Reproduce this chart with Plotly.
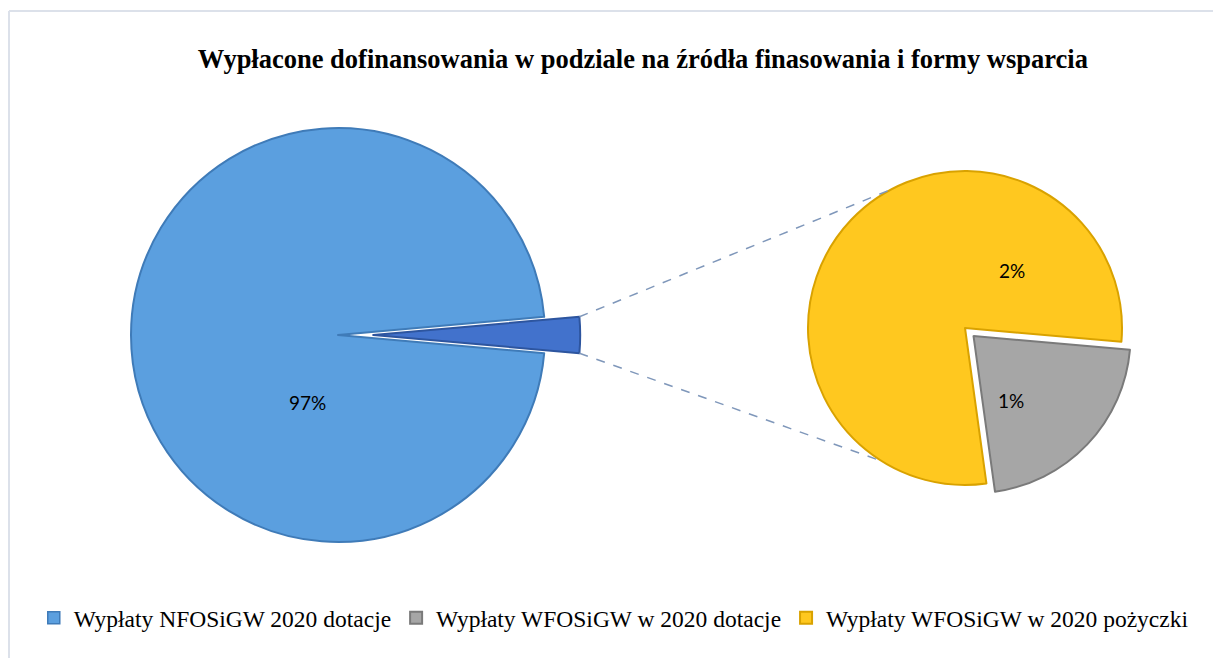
import math
import plotly.graph_objects as go

# udział w wypłatach (% całości)
labels = [
    "Wypłaty NFOSiGW 2020 dotacje",
    "Wypłaty WFOSiGW w 2020 dotacje",
    "Wypłaty WFOSiGW w 2020 pożyczki",
]
values = [97.2, 0.6, 2.2]
colors = ["#5B9FDF", "#A6A6A6", "#FFC81F"]
edge_colors = ["#3F7BB8", "#7A7A7A", "#D9A200"]
other_color = "#4272CC"

W, H = 1213, 658
total = sum(values)
main_val = values[0]
other_val = sum(values[1:])
pct = [f"{v / total:.0%}" for v in values]

# geometry in pixels (layout only)
c1, r1, pull1 = (338, 335), 207, 0.17
c2, r2, pull2 = (965, 328), 157, [0.075, 0]
# where the percentage labels sit: (angle in degrees, fraction of radius)
label_pos = [(233, 0.41), (-50, 0.60), (43, 0.54)]


def domain(center, r, maxpull):
    half = r * (1 + maxpull)
    cx, cy = center
    return dict(
        x=[(cx - half) / W, (cx + half) / W],
        y=[(H - cy - half) / H, (H - cy + half) / H],
    )


def to_paper(x, y):
    return x / W, 1 - y / H


other_span = other_val / total * 360
main_rotation = 90 - other_span / 2

fig = go.Figure()

# legend entry for the main slice
fig.add_trace(
    go.Scatter(
        x=[None], y=[None], mode="markers", name=labels[0],
        marker=dict(symbol="square", size=12, color=colors[0],
                    line=dict(color=edge_colors[0], width=1.5)),
        showlegend=True, hoverinfo="skip",
    )
)

fig.add_trace(
    go.Pie(
        labels=["Pozostałe", labels[0]],
        values=[other_val, main_val],
        textinfo="none",
        sort=False,
        direction="clockwise",
        rotation=main_rotation,
        pull=[pull1, 0],
        marker=dict(colors=[other_color, colors[0]],
                    line=dict(color=["#2D559F", edge_colors[0]], width=2)),
        domain=domain(c1, r1, pull1),
        showlegend=False,
        hoverinfo="label+percent",
    )
)

fig.add_trace(
    go.Pie(
        labels=labels[1:],
        values=values[1:],
        textinfo="none",
        sort=False,
        direction="clockwise",
        rotation=95,
        pull=pull2,
        marker=dict(colors=colors[1:],
                    line=dict(color=edge_colors[1:], width=2)),
        domain=domain(c2, r2, max(pull2)),
        showlegend=True,
        hoverinfo="label+value",
    )
)

# percentage labels
annotations = []
centers = [(c1, r1), (c2, r2), (c2, r2)]
for txt, (ang, frac), ((cx, cy), r) in zip(pct, label_pos, centers):
    a = math.radians(ang)
    px, py = to_paper(cx + frac * r * math.cos(a), cy - frac * r * math.sin(a))
    annotations.append(dict(
        x=px, y=py, xref="paper", yref="paper", text=txt, showarrow=False,
        font=dict(family="Lato, Carlito, Calibri, sans-serif", size=19, color="black"),
    ))

# connector lines between the exploded slice and the secondary pie
half = math.radians(other_span / 2)
tip_x = c1[0] + pull1 * r1 + r1 * math.cos(half)
tip_dy = r1 * math.sin(half)
ends = [math.radians(118), math.radians(-122)]
shapes = []
for sign, ang in zip([-1, 1], ends):
    x0, y0 = to_paper(tip_x, c1[1] + sign * tip_dy)
    x1, y1 = to_paper(c2[0] + r2 * math.cos(ang), c2[1] - r2 * math.sin(ang))
    shapes.append(dict(
        type="line", xref="paper", yref="paper", x0=x0, y0=y0, x1=x1, y1=y1,
        line=dict(color="#7F97BA", width=1.5, dash="dash"),
    ))

# chart frame
fx, fy = to_paper(9, 11)
shapes.append(dict(type="line", xref="paper", yref="paper",
                   x0=fx, y0=fy, x1=1.0, y1=fy,
                   line=dict(color="#DCE1EA", width=2)))
shapes.append(dict(type="line", xref="paper", yref="paper",
                   x0=fx, y0=fy, x1=fx, y1=0,
                   line=dict(color="#DCE1EA", width=2)))

fig.update_layout(
    width=W,
    height=H,
    margin=dict(l=0, r=0, t=0, b=0),
    paper_bgcolor="white",
    plot_bgcolor="white",
    xaxis=dict(visible=False),
    yaxis=dict(visible=False),
    font=dict(family="Lato, Carlito, Calibri, sans-serif", size=18, color="black"),
    title=dict(
        text="Wypłacone dofinansowania w podziale na źródła finasowania i formy wsparcia",
        x=0.53, xanchor="center", y=1 - 59 / H, yanchor="middle",
        font=dict(family="Liberation Serif, Times New Roman, serif",
                  size=26.5, weight="bold", color="black"),
    ),
    legend=dict(
        orientation="h", x=0.506, xanchor="center", y=1 - 618 / H, yanchor="middle",
        font=dict(family="Liberation Serif, Times New Roman, serif", size=23.5, color="black"),
        itemclick=False,
    ),
    annotations=annotations,
    shapes=shapes,
)

fig.write_html(
    "out.html",
    config={"displayModeBar": False},
    post_script="document.body.style.margin = '0';",
)
